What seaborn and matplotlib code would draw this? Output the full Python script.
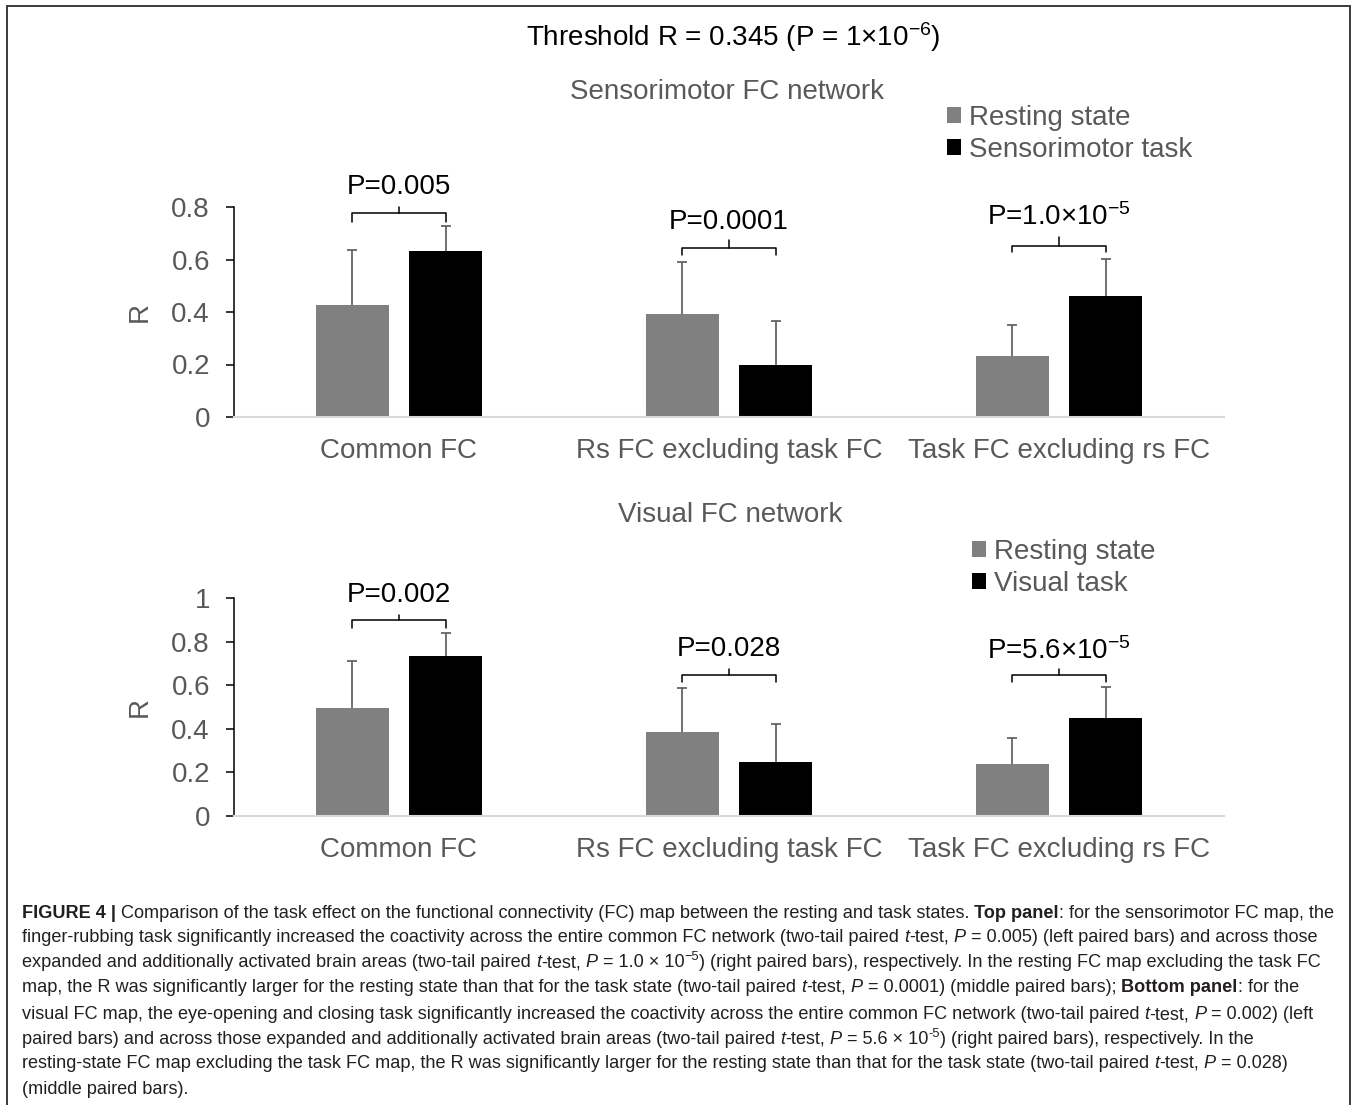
import numpy as np
import pandas as pd
import matplotlib
matplotlib.use("Agg")
import matplotlib.pyplot as plt
import seaborn as sns
from matplotlib.patches import Patch
from matplotlib.lines import Line2D
from matplotlib import font_manager

# ---------------- data ----------------
categories = ["Common FC", "Rs FC excluding task FC", "Task FC excluding rs FC"]
states_top = ["Resting state", "Sensorimotor task"]
states_bot = ["Resting state", "Visual task"]

top_rest = [0.425, 0.393, 0.233]
top_rest_err = [0.213, 0.197, 0.117]
top_task = [0.631, 0.197, 0.461]
top_task_err = [0.098, 0.169, 0.142]

bot_rest = [0.494, 0.386, 0.239]
bot_rest_err = [0.218, 0.200, 0.120]
bot_task = [0.736, 0.250, 0.451]
bot_task_err = [0.103, 0.170, 0.141]

top_pvals = ["P=0.005", "P=0.0001", r"P=1.0×$10^{-5}$"]
bot_pvals = ["P=0.002", "P=0.028", r"P=5.6×$10^{-5}$"]

top_yticks = [0, 0.2, 0.4, 0.6, 0.8]
top_yticklabels = ["0", "0.2", "0.4", "0.6", "0.8"]
bot_yticks = [0, 0.2, 0.4, 0.6, 0.8, 1.0]
bot_yticklabels = ["0", "0.2", "0.4", "0.6", "0.8", "1"]

title_text = r"Threshold R = 0.345 (P = 1×$10^{-6}$)"
top_subtitle = "Sensorimotor FC network"
bot_subtitle = "Visual FC network"

# bracket annotation geometry (data units): end, level, tip, text baseline
top_br = dict(end=[0.742, 0.617, 0.629], level=[0.776, 0.643, 0.652],
              tip=[0.799, 0.673, 0.685], text=[0.851, 0.718, 0.730])
bot_br = dict(end=[0.862, 0.614, 0.614], level=[0.897, 0.647, 0.647],
              tip=[0.923, 0.675, 0.675], text=[0.982, 0.736, 0.719])

caption_lines = [
    [("FIGURE 4 |", "bold"),
     (" Comparison of the task effect on the functional connectivity (FC) map between the resting and task states. ", "normal"),
     ("Top panel", "bold"), (": for the sensorimotor FC map, the", "normal")],
    [("finger-rubbing task significantly increased the coactivity across the entire common FC network (two-tail paired ", "normal"),
     ("t", "italic"), ("-test, ", "normal"), ("P", "italic"),
     (" = 0.005) (left paired bars) and across those", "normal")],
    [("expanded and additionally activated brain areas (two-tail paired ", "normal"),
     ("t", "italic"), ("-test, ", "normal"), ("P", "italic"), (" = 1.0 × 10", "normal"), ("\u22125", "sup"),
     (") (right paired bars), respectively. In the resting FC map excluding the task FC", "normal")],
    [("map, the R was significantly larger for the resting state than that for the task state (two-tail paired ", "normal"),
     ("t", "italic"), ("-test, ", "normal"), ("P", "italic"),
     (" = 0.0001) (middle paired bars); ", "normal"), ("Bottom panel", "bold"), (": for the", "normal")],
    [("visual FC map, the eye-opening and closing task significantly increased the coactivity across the entire common FC network (two-tail paired ", "normal"),
     ("t", "italic"), ("-test, ", "normal"), ("P", "italic"), (" = 0.002) (left", "normal")],
    [("paired bars) and across those expanded and additionally activated brain areas (two-tail paired ", "normal"),
     ("t", "italic"), ("-test, ", "normal"), ("P", "italic"), (" = 5.6 × 10", "normal"), ("-5", "sup"),
     (") (right paired bars), respectively. In the", "normal")],
    [("resting-state FC map excluding the task FC map, the R was significantly larger for the resting state than that for the task state (two-tail paired ", "normal"),
     ("t", "italic"), ("-test, ", "normal"), ("P", "italic"), (" = 0.028)", "normal")],
    [("(middle paired bars).", "normal")],
]
caption_baselines = [918, 942, 967, 992, 1019, 1044, 1068, 1094]

# ---------------- style ----------------
W, H = 1358, 1105
GRAY = "#808080"
BLACK = "#000000"
TXT = "#595959"
ERR = "#595959"
FS = 20

sns.set_style("white")
plt.rcParams["font.family"] = ["Liberation Sans", "DejaVu Sans"]
plt.rcParams["mathtext.fontset"] = "custom"
plt.rcParams["mathtext.rm"] = "Liberation Sans"
plt.rcParams["mathtext.it"] = "Liberation Sans:italic"
plt.rcParams["mathtext.bf"] = "Liberation Sans:bold"

fig = plt.figure(figsize=(W / 100, H / 100), dpi=100)
fig.patch.set_facecolor("white")

ax_top = fig.add_axes([234 / W, 1 - 417 / H, 990 / W, 210 / H])
ax_bot = fig.add_axes([234 / W, 1 - 816 / H, 990 / W, 218 / H])


def panel(ax, rest, rest_err, task, task_err, states, yticks, ytl, ymax, pvals, br):
    df = pd.DataFrame({
        "category": categories * 2,
        "state": [states[0]] * 3 + [states[1]] * 3,
        "R": list(rest) + list(task),
    })
    sns.barplot(data=df, x="category", y="R", hue="state", order=categories,
                hue_order=states, palette=[GRAY, BLACK], saturation=1,
                width=0.564, gap=0.216, errorbar=None, legend=False,
                linewidth=0, ax=ax)
    bars = sorted(ax.patches, key=lambda p: p.get_x())
    xs = np.array([b.get_x() + b.get_width() / 2 for b in bars])
    hs = np.array([b.get_height() for b in bars])
    errs = np.array([v for pair in zip(rest_err, task_err) for v in pair])
    # upper-only error bars: stems plus caps at the top
    ax.vlines(xs, hs, hs + errs, color=ERR, lw=1.2, zorder=1)
    ax.plot(xs, hs + errs, ls="none", marker="_", ms=6.6, mew=1.2, color=ERR, zorder=1)
    for i in range(3):
        xg, xb = xs[2 * i], xs[2 * i + 1]
        xm = (xg + xb) / 2
        ax.plot([xg, xg, xb, xb], [br["end"][i], br["level"][i], br["level"][i], br["end"][i]],
                color="black", lw=1.1, clip_on=False, solid_joinstyle="round")
        ax.plot([xm, xm], [br["level"][i], br["tip"][i]], color="black", lw=1.1, clip_on=False)
        ax.text(i, br["text"][i], pvals[i], ha="center", va="baseline",
                fontsize=FS, color="black", clip_on=False)
    ax.set_xlim(-0.5, 2.5)
    ax.set_ylim(0, ymax)
    ax.set_yticks(yticks)
    ax.set_yticklabels(ytl)
    for s in ["top", "right"]:
        ax.spines[s].set_visible(False)
    ax.spines["left"].set_color("black")
    ax.spines["left"].set_linewidth(1.1)
    ax.spines["bottom"].set_color("#d9d9d9")
    ax.spines["bottom"].set_linewidth(1.5)
    ax.tick_params(axis="y", direction="out", length=5.8, width=1.1, color="black",
                   labelsize=FS, labelcolor=TXT, pad=11.5, left=True)
    ax.tick_params(axis="x", length=0, labelsize=FS, labelcolor=TXT, pad=15)
    ax.set_xlabel("")
    ax.set_ylabel("R", fontsize=FS, color=TXT)
    ax.yaxis.set_label_coords(-0.082, 0.5)
    ax.set_facecolor("white")
    ax.grid(False)


panel(ax_top, top_rest, top_rest_err, top_task, top_task_err, states_top,
      top_yticks, top_yticklabels, 0.8, top_pvals, top_br)
panel(ax_bot, bot_rest, bot_rest_err, bot_task, bot_task_err, states_bot,
      bot_yticks, bot_yticklabels, 1.0, bot_pvals, bot_br)

# titles
fig.text(733 / W, 1 - 37 / H, title_text, ha="center", va="center", fontsize=FS, color="black")
fig.text(727 / W, 1 - 92 / H, top_subtitle, ha="center", va="center", fontsize=FS, color=TXT)
fig.text(730 / W, 1 - 515 / H, bot_subtitle, ha="center", va="center", fontsize=FS, color=TXT)

# legends
for states, anchor in [(states_top, (947 / W, 1 - 105 / H)), (states_bot, (972 / W, 1 - 539 / H))]:
    handles = [Patch(facecolor=GRAY, edgecolor="none"), Patch(facecolor=BLACK, edgecolor="none")]
    fig.legend(handles, states, loc="upper left", bbox_to_anchor=anchor, frameon=False,
               fontsize=FS, handlelength=0.5, handleheight=0.5, handletextpad=0.28,
               labelspacing=0.2, borderpad=0, borderaxespad=0, labelcolor=TXT)

# outer border
bc = "#3a3a3a"
fig.add_artist(Line2D([7 / W, 7 / W], [0, 1 - 6 / H], color=bc, lw=1.4))
fig.add_artist(Line2D([7 / W, 1350 / W], [1 - 6 / H, 1 - 6 / H], color=bc, lw=1.4))
fig.add_artist(Line2D([1350 / W, 1350 / W], [0, 1 - 6 / H], color=bc, lw=1.4))

# caption
names = {f.name for f in font_manager.fontManager.ttflist}
CAP_FAMILY = ["Liberation Sans Narrow", "DejaVu Sans"] if "Liberation Sans Narrow" in names else ["Liberation Sans", "DejaVu Sans"]
CAP_COLOR = "#231f20"
CAP_X0 = 22
renderer = fig.canvas.get_renderer()


def text_width(s, size, **kw):
    t = fig.text(0, 0, s, fontsize=size, family=CAP_FAMILY, **kw)
    w = t.get_window_extent(renderer).width
    t.remove()
    return w


def draw_line(segs, y_base, size):
    sp = text_width("a a", size) - text_width("aa", size)
    x = CAP_X0
    arts = []
    for text, style in segs:
        lead = text.startswith(" ")
        trail = text.endswith(" ")
        t = text.strip()
        if lead:
            x += sp
        kw = dict(family=CAP_FAMILY, color=CAP_COLOR, va="baseline", ha="left")
        yb = y_base
        sz = size
        if style == "bold":
            kw["fontweight"] = "bold"
        elif style == "italic":
            kw["fontstyle"] = "italic"
        elif style == "sup":
            sz = size * 0.7
            yb = y_base - size * 0.4 * 100 / 72
        art = fig.text(x / W, 1 - yb / H, t, fontsize=sz, **kw)
        x += art.get_window_extent(renderer).width
        arts.append(art)
        if trail:
            x += sp
    return x, arts


# fit caption size so the first line spans the caption width
trial = 12.0
end_x, arts = draw_line(caption_lines[0], caption_baselines[0], trial)
for a in arts:
    a.remove()
cap_size = trial * (1338 - CAP_X0) / (end_x - CAP_X0)
for segs, yb in zip(caption_lines, caption_baselines):
    draw_line(segs, yb, cap_size)

fig.savefig("out.png", dpi=100, facecolor="white")
